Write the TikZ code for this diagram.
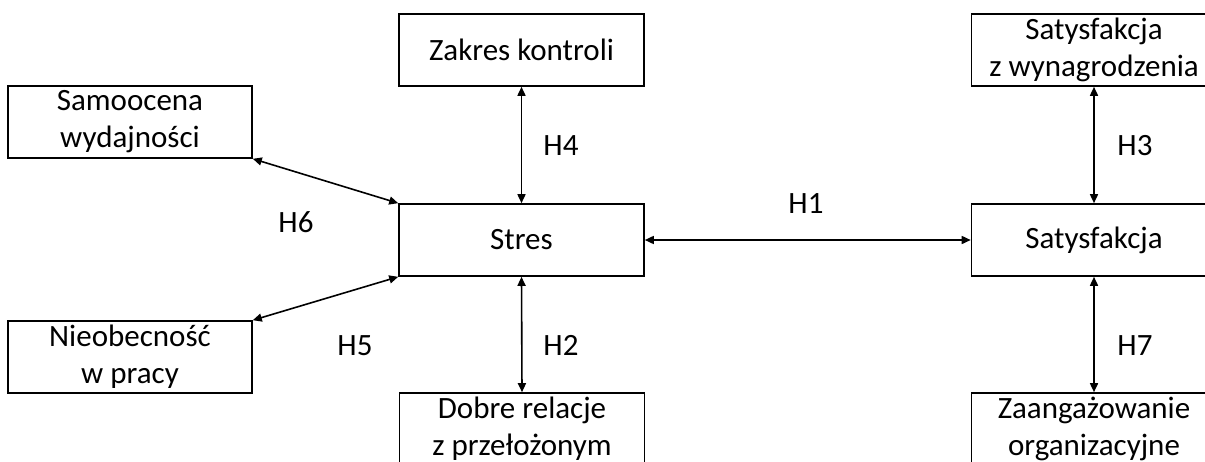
\documentclass[tikz,border=0pt]{standalone}
\usepackage{fontspec}
\setmainfont{Carlito}
\usetikzlibrary{arrows.meta}
\begin{document}
\begin{tikzpicture}[x=1pt,y=-1pt,
  box/.style={draw=black,line width=1.6pt,minimum width=245pt,minimum height=72pt,inner sep=0pt,align=center,font=\fontsize{31}{37}\selectfont},
  lbl/.style={anchor=base,font=\fontsize{31}{37}\selectfont,inner sep=0pt},
  link/.style={line width=1.6pt,{Triangle[length=9pt,width=8pt]}-{Triangle[length=9pt,width=8pt]}}]
\clip (0,0) rectangle (1205,461);
\fill[white] (0,0) rectangle (1205,461);
\node[box] (zk) at (521.5,50) {Zakres kontroli};
\node[box] (sw) at (1094,50) {Satysfakcja\\z wynagrodzenia};
\node[box,minimum width=244pt] (sam) at (130,122) {Samoocena\\wydajności};
\node[box] (st) at (521.5,240) {Stres};
\node[box] (sat) at (1094,240) {Satysfakcja};
\node[box,minimum width=244pt] (nie) at (130,357) {Nieobecność\\w pracy};
\node[box] (dr) at (522,429) {Dobre relacje\\z przełożonym};
\node[box] (za) at (1094,429) {Zaangażowanie\\organizacyjne};
\draw[link] (zk.south) -- (st.north);
\draw[link] (sam.south east) -- (st.north west);
\draw[link] (nie.north east) -- (st.south west);
\draw[link] (st.east) -- (sat.west);
\draw[link] (sw.south) -- (sat.north);
\draw[link] (st.south) -- (dr.north);
\draw[link] (sat.south) -- (za.north);
\node[lbl] (h4) at (561,155) {H4};
\node[lbl] (h6) at (296,232) {H6};
\node[lbl] (h1) at (806,213) {H1};
\node[lbl] (h3) at (1135,155) {H3};
\node[lbl] (h5) at (355,355) {H5};
\node[lbl] (h2) at (561,355) {H2};
\node[lbl] (h7) at (1135,355) {H7};
\end{tikzpicture}
\end{document}
